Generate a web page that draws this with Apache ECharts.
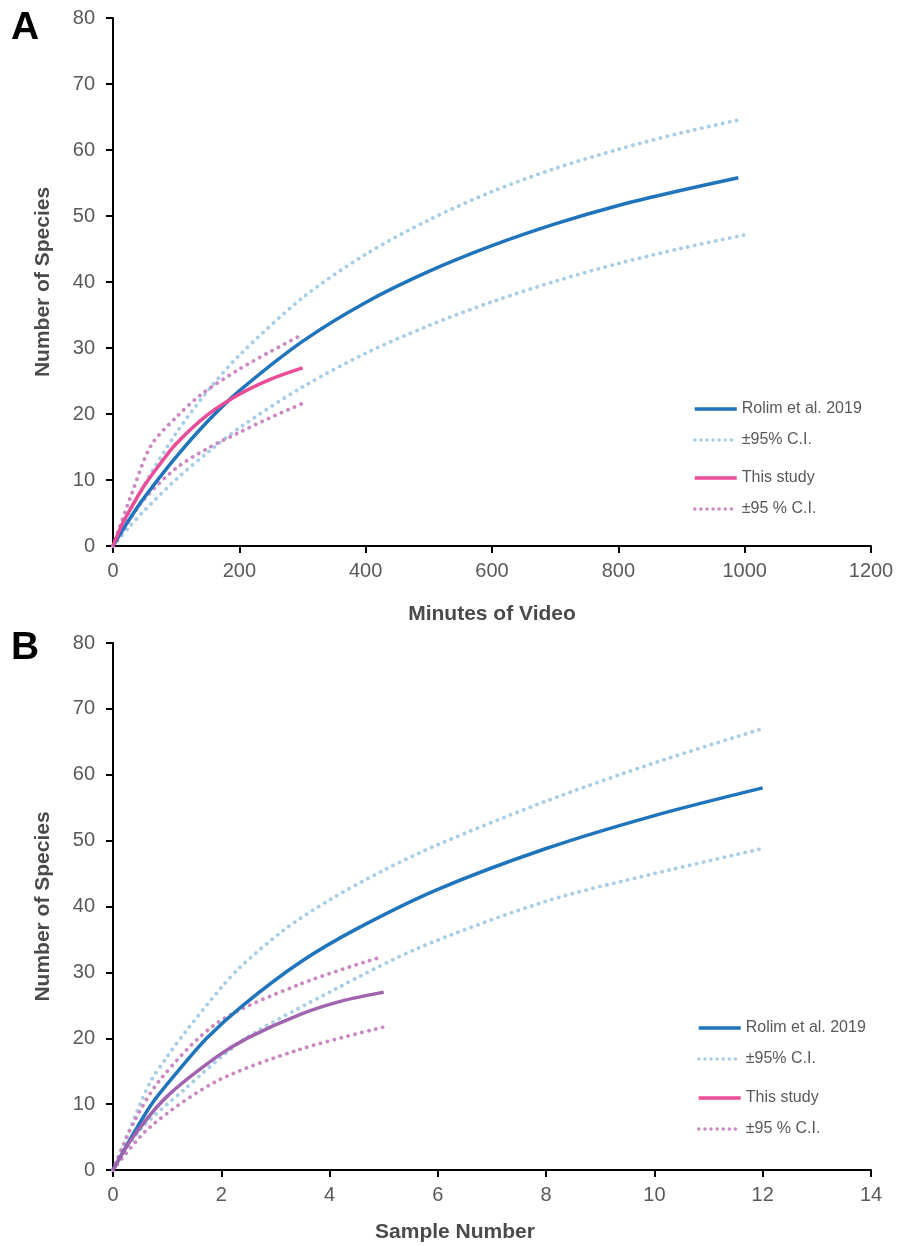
<!DOCTYPE html>
<html>
<head>
<meta charset="utf-8">
<script src="https://cdn.jsdelivr.net/npm/echarts@6/dist/echarts.min.js"></script>
<style>
  html, body { margin: 0; padding: 0; background: #fff; }
  #main { width: 897px; height: 1246px; }
</style>
</head>
<body>
<div id="main"></div>
<script>
// Panel A: minutes of video
var aRolimX = [0, 25, 50, 100, 150, 200, 300, 400, 500, 600, 700, 800, 900, 990];
var aRolimY = [0, 3.9, 7.4, 13.5, 18.9, 23.5, 31.0, 36.9, 41.6, 45.5, 48.8, 51.6, 53.9, 55.8];
var aRolimUpX = [0, 25, 50, 100, 150, 200, 300, 400, 500, 600, 700, 800, 900, 988];
var aRolimUpY = [0, 5.0, 9.4, 17.1, 23.5, 28.9, 37.6, 44.2, 49.4, 53.7, 57.2, 60.1, 62.6, 64.5];
var aRolimLoX = [0, 25, 50, 100, 150, 200, 300, 400, 500, 600, 700, 800, 900, 1008];
var aRolimLoY = [0, 2.8, 5.4, 10.1, 14.2, 17.9, 24.1, 29.2, 33.4, 37.0, 40.1, 42.8, 45.1, 47.3];
var aStudyX = [0, 15, 30, 50, 75, 100, 150, 200, 250, 300];
var aStudyY = [0, 3.4, 6.0, 9.2, 12.5, 15.5, 19.9, 23.0, 25.3, 27.0];
var aStudyUpX = [0, 30, 60, 100, 140, 200, 250, 295];
var aStudyUpY = [0, 8.0, 15.2, 19.5, 23.0, 26.8, 29.5, 31.8];
var aStudyLoX = [0, 25, 50, 100, 150, 200, 250, 300];
var aStudyLoY = [0, 3.8, 7.2, 11.8, 14.8, 17.2, 19.5, 21.6];

// Panel B: sample number
var bRolimX = [0, 0.68, 1.2, 1.73, 2.4, 3.45, 4.5, 6, 8, 10, 12];
var bRolimY = [0, 9.6, 15.0, 20.0, 25.0, 31.5, 36.6, 42.6, 48.8, 53.8, 58.0];
var bRolimUpX = [0, 0.35, 0.68, 1, 1.36, 2, 2.35, 3.15, 4, 5, 6, 8, 10, 12];
var bRolimUpY = [0, 7.0, 13.2, 17.2, 21.2, 27.7, 30.8, 36.4, 41.0, 45.5, 49.4, 56.0, 61.8, 67.0];
var bRolimLoX = [0, 0.5, 1.3, 2.4, 4.07, 5.67, 8, 10, 12];
var bRolimLoY = [0, 6.1, 12.1, 19.7, 27.3, 33.8, 40.8, 45.0, 48.8];
var bStudyX = [0, 0.37, 0.99, 1.92, 2.5, 3.45, 4.2, 5];
var bStudyY = [0, 5.0, 11.1, 17.2, 20.1, 23.6, 25.6, 27.0];
var bStudyUpX = [0, 0.37, 0.87, 1.92, 3.45, 4.9];
var bStudyUpY = [0, 7.0, 13.7, 22.3, 28.2, 32.2];
var bStudyLoX = [0, 0.68, 1.92, 3.45, 5];
var bStudyLoY = [0, 6.5, 13.5, 18.3, 21.7];

var xTicksA = { max: 1200, step: 200 };
var xTicksB = { max: 14, step: 2 };

var blue = '#1f74bb';
var blueDot = '#a8cde6';
var pink = '#ea4c97';
var pinkDot = '#cb89c3';
var purple = '#a064ae';
var grey = '#595959';
var font = 'Liberation Sans';

function pairs(xs, ys) {
  return xs.map(function (x, i) { return [x, ys[i]]; });
}

function solid(name, idx, xs, ys, color) {
  return {
    name: name, type: 'line', xAxisIndex: idx, yAxisIndex: idx,
    data: pairs(xs, ys), smooth: 0.3, symbol: 'none',
    lineStyle: { color: color, width: 3.5 }, itemStyle: { color: color },
    z: 3
  };
}

function dotted(name, idx, xs, ys, color) {
  return {
    name: name, type: 'line', xAxisIndex: idx, yAxisIndex: idx,
    data: pairs(xs, ys), smooth: 0.3, symbol: 'none',
    lineStyle: { color: color, width: 3.8, type: [0.1, 7], cap: 'round' },
    itemStyle: { color: color },
    z: 2
  };
}

function xAx(idx, ticks, name, gap, pad) {
  return {
    gridIndex: idx, type: 'value', min: 0, max: ticks.max, interval: ticks.step,
    name: name, nameLocation: 'middle', nameGap: gap,
    nameTextStyle: { fontFamily: font, fontSize: 21, fontWeight: 'bold', color: '#4a4a4a', padding: pad },
    axisLine: { lineStyle: { color: '#000', width: 2 } },
    axisTick: { inside: false, length: 7, lineStyle: { color: '#000', width: 2 } },
    axisLabel: { fontFamily: font, fontSize: 20, color: grey, margin: 15, formatter: function (v) { return String(v); } },
    splitLine: { show: false }
  };
}

function yAx(idx) {
  return {
    gridIndex: idx, type: 'value', min: 0, max: 80, interval: 10,
    name: 'Number of Species', nameLocation: 'middle', nameGap: 59,
    nameTextStyle: { fontFamily: font, fontSize: 21, fontWeight: 'bold', color: '#4a4a4a' },
    axisLine: { show: true, lineStyle: { color: '#000', width: 2 } },
    axisTick: { show: true, length: 7, lineStyle: { color: '#000', width: 2 } },
    axisLabel: { fontFamily: font, fontSize: 20, color: grey, margin: 18 },
    splitLine: { show: false }
  };
}

function legendBox(top, left, items) {
  return {
    orient: 'vertical', top: top, left: left, padding: 0,
    itemWidth: 42, itemHeight: 14, itemGap: 15,
    textStyle: { fontFamily: font, fontSize: 16, color: grey },
    selectedMode: false,
    data: items
  };
}

function legItem(name, color, width, dots) {
  return {
    name: name,
    itemStyle: { opacity: 0 },
    lineStyle: dots
      ? { color: color, width: width, type: [0.1, 6], cap: 'round', opacity: 1 }
      : { color: color, width: width, type: 'solid', opacity: 1 }
  };
}

var legBlue = [legItem('Rolim et al. 2019', blue, 3.5, false), legItem('±95% C.I.', blueDot, 3.4, true)];
var legPink = [legItem('This study', pink, 3.5, false), legItem('±95 % C.I.', pinkDot, 3.4, true)];

var chart = echarts.init(document.getElementById('main'));

chart.setOption({
  backgroundColor: '#fff',
  animation: false,
  graphic: [
    { type: 'text', left: 11, top: 9, style: { text: 'A', fontFamily: font, fontSize: 39, fontWeight: 'bold', fill: '#000' } },
    { type: 'text', left: 11, top: 629, style: { text: 'B', fontFamily: font, fontSize: 39, fontWeight: 'bold', fill: '#000' } }
  ],
  legend: [
    legendBox(401, 693, legBlue),
    legendBox(470, 693, legPink),
    legendBox(1020, 697, legBlue),
    legendBox(1090, 697, legPink)
  ],
  grid: [
    { left: 113, top: 18, width: 758, height: 528 },
    { left: 113, top: 643, width: 758, height: 527 }
  ],
  xAxis: [
    xAx(0, xTicksA, 'Minutes of Video', 58, [0, 0, 0, 0]),
    xAx(1, xTicksB, 'Sample Number', 52, [0, 74, 0, 0])
  ],
  yAxis: [yAx(0), yAx(1)],
  series: [
    dotted('±95% C.I.', 0, aRolimUpX, aRolimUpY, blueDot),
    dotted('±95% C.I.', 0, aRolimLoX, aRolimLoY, blueDot),
    dotted('±95 % C.I.', 0, aStudyUpX, aStudyUpY, pinkDot),
    dotted('±95 % C.I.', 0, aStudyLoX, aStudyLoY, pinkDot),
    solid('Rolim et al. 2019', 0, aRolimX, aRolimY, blue),
    solid('This study', 0, aStudyX, aStudyY, pink),

    dotted('±95% C.I.', 1, bRolimUpX, bRolimUpY, blueDot),
    dotted('±95% C.I.', 1, bRolimLoX, bRolimLoY, blueDot),
    dotted('±95 % C.I.', 1, bStudyUpX, bStudyUpY, pinkDot),
    dotted('±95 % C.I.', 1, bStudyLoX, bStudyLoY, pinkDot),
    solid('Rolim et al. 2019', 1, bRolimX, bRolimY, blue),
    solid('This study', 1, bStudyX, bStudyY, purple)
  ]
});
</script>
</body>
</html>
